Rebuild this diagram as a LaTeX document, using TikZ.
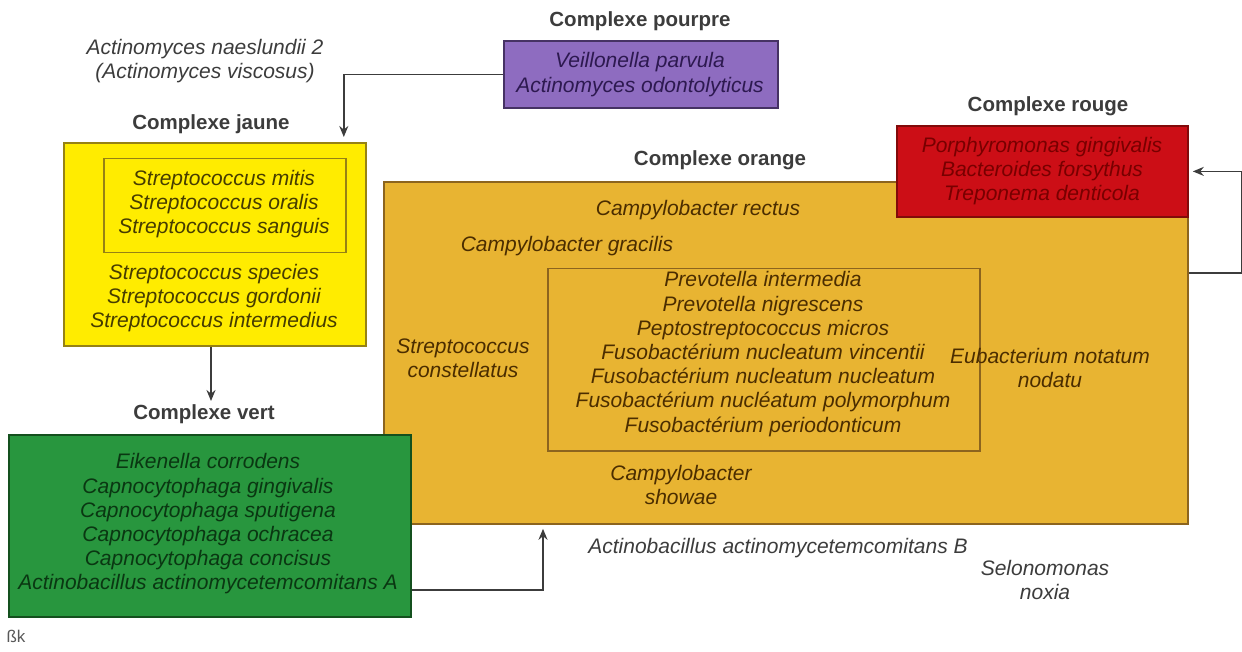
\documentclass[tikz,border=0pt]{standalone}
\usepackage{fontspec}
\setmainfont{Liberation Sans}
\usetikzlibrary{arrows.meta}
\definecolor{cjaune}{RGB}{255,236,0}
\definecolor{cjauneb}{RGB}{150,130,20}
\definecolor{cjaunet}{RGB}{70,60,0}
\definecolor{cpourpre}{RGB}{142,108,192}
\definecolor{cpourpreb}{RGB}{70,50,100}
\definecolor{cpourpret}{RGB}{45,25,80}
\definecolor{crouge}{RGB}{204,14,22}
\definecolor{crougeb}{RGB}{130,10,10}
\definecolor{crouget}{RGB}{120,0,0}
\definecolor{corange}{RGB}{232,180,50}
\definecolor{corangeb}{RGB}{140,100,30}
\definecolor{coranget}{RGB}{75,45,0}
\definecolor{cvert}{RGB}{40,150,62}
\definecolor{cvertb}{RGB}{20,80,30}
\definecolor{cvertt}{RGB}{10,55,18}
\definecolor{cgris}{RGB}{60,60,60}
\tikzset{
  boite/.style={draw, line width=1.8pt, anchor=north west, inner sep=0pt},
  espece/.style={align=center, inner sep=0pt, font=\fontsize{21}{24.2}\selectfont\itshape},
  titre/.style={inner sep=0pt, text=cgris, font=\fontsize{20.5}{24}\selectfont\bfseries},
  fleche/.style={draw=cgris, line width=1.6pt, -{Stealth[length=11pt,width=9pt]}},
}
\begin{document}
\begin{tikzpicture}[x=1pt,y=-1pt]
\useasboundingbox (0,0) rectangle (1242,652);
% boxes
\node[boite, draw=cpourpreb, fill=cpourpre, minimum width=274pt, minimum height=67pt] (pourpre) at (503,40) {};
\node[boite, draw=cjauneb, fill=cjaune, minimum width=302pt, minimum height=203pt] (jaune) at (63,142) {};
\node[boite, draw=cjauneb, line width=1.5pt, minimum width=242pt, minimum height=94pt] (jauneint) at (103,158) {};
\node[boite, draw=corangeb, fill=corange, minimum width=804pt, minimum height=342pt] (orange) at (383,181) {};
\node[boite, draw=corangeb, line width=1.5pt, minimum width=432pt, minimum height=182pt] (orangeint) at (547,268) {};
\node[boite, draw=crougeb, fill=crouge, minimum width=291pt, minimum height=91pt] (rouge) at (896,125) {};
\node[boite, draw=cvertb, fill=cvert, minimum width=402pt, minimum height=182pt] (vert) at (8,434) {};
% titles
\node[titre] (tpourpre) at (640,21) {Complexe pourpre};
\node[titre] (tjaune) at (211,124) {Complexe jaune};
\node[titre] (torange) at (720,160) {Complexe orange};
\node[titre] (trouge) at (1048,106) {Complexe rouge};
\node[titre] (tvert) at (204,414) {Complexe vert};
% texts
\node[espece, text=cgris] (naeslundii) at (205,61) {Actinomyces naeslundii 2\\(Actinomyces viscosus)};
\node[espece, text=cpourpret] (spourpre) at (640,74.5) {Veillonella parvula\\Actinomyces odontolyticus};
\node[espece, text=cjaunet] (sjauneint) at (224,204) {Streptococcus mitis\\Streptococcus oralis\\Streptococcus sanguis};
\node[espece, text=cjaunet] (sjaune) at (214,298) {Streptococcus species\\Streptococcus gordonii\\Streptococcus intermedius};
\node[espece, text=crouget] (srouge) at (1042,171) {Porphyromonas gingivalis\\Bacteroides forsythus\\Treponema denticola};
\node[espece, text=coranget] (rectus) at (698,210) {Campylobacter rectus};
\node[espece, text=coranget] (gracilis) at (567,246) {Campylobacter gracilis};
\node[espece, text=coranget] (constellatus) at (463,358) {Streptococcus\\constellatus};
\node[espece, text=coranget] (eubact) at (1050,368) {Eubacterium notatum\\nodatu};
\node[espece, text=coranget] (showae) at (681,485) {Campylobacter\\showae};
\node[espece, text=coranget] (sorangeint) at (763,354) {Prevotella intermedia\\Prevotella nigrescens\\Peptostreptococcus micros\\Fusobact\'erium nucleatum vincentii\\Fusobact\'erium nucleatum nucleatum\\Fusobact\'erium nucl\'eatum polymorphum\\Fusobact\'erium periodonticum};
\node[espece, text=cvertt] (svert) at (208,524) {Eikenella corrodens\\Capnocytophaga gingivalis\\Capnocytophaga sputigena\\Capnocytophaga ochracea\\Capnocytophaga concisus\\Actinobacillus actinomycetemcomitans A};
\node[espece, text=cgris] (actinoB) at (778,548) {Actinobacillus actinomycetemcomitans B};
\node[espece, text=cgris] (selono) at (1045,580) {Selonomonas\\noxia};
\node[inner sep=0pt, text=black!65, font=\fontsize{17}{17}\selectfont] (logo) at (16,636) {ßk};
% arrows
\coordinate (v1) at (211,401);
\draw[fleche, shorten >=5pt] (pourpre.west) -| ([xshift=-23pt]jaune.north east);
\draw[fleche] (jaune.south -| v1) -- (v1);
\draw[fleche, shorten >=4pt] ([yshift=-64pt]vert.east) -| ([xshift=160pt]orange.south west);
\draw[fleche, shorten >=4pt] ([yshift=80pt]orange.east) -- ++(53,0) |- (rouge.east);
\end{tikzpicture}
\end{document}
